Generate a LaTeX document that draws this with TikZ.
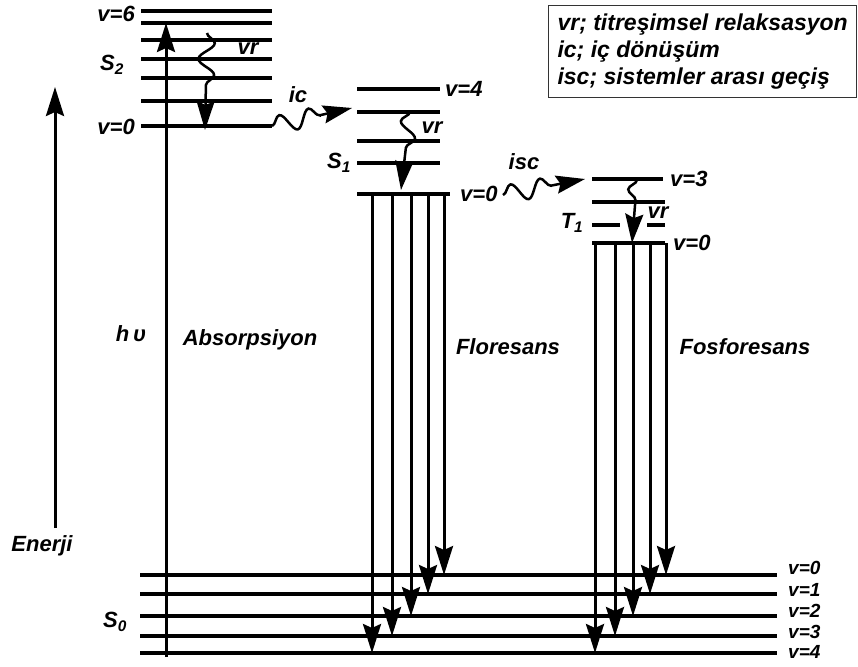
\documentclass[tikz,border=0pt]{standalone}
\usepackage{fontspec}
\setmainfont{Liberation Sans}
\usetikzlibrary{arrows.meta, decorations.pathmorphing}
\tikzset{
  level/.style={line width=3.4pt},
  trans/.style={line width=3pt, -{Stealth[length=29pt, width=18pt, inset=4pt]}},
  wave/.style={trans, line width=2.5pt, decorate,
    decoration={snake, amplitude=#1, segment length=32pt, post length=30pt}},
  wave/.default=8pt,
  lbl/.style={font=\fontsize{22}{26}\selectfont\bfseries\itshape, inner sep=0pt},
  vlbl/.style={lbl, font=\fontsize{19}{22}\selectfont\bfseries\itshape},
}
\begin{document}
\begin{tikzpicture}[x=1pt, y=-1pt]
  \useasboundingbox (0,0) rectangle (858,666);
  % ground state S0
  \foreach \y/\ly [count=\i from 0] in {575/568,594/590,616/611,636/632,653/652} {
    \coordinate (S0v\i) at (140,\y);
    \draw[level] (S0v\i) -- ++(637,0);
    \node[vlbl, anchor=west] (S0l\i) at (788,\ly) {v=\i};
  }
  \node[lbl] (S0) at (115,622) {S\textsubscript{0}};
  % S2
  \foreach \y [count=\i from 0] in {126,101,78,59,40,23,11} {
    \coordinate (S2v\i) at (141,\y);
    \draw[level] (S2v\i) -- ++(131,0);
  }
  \node[lbl, anchor=east] (S2top) at ([xshift=-6pt, yshift=-3pt]S2v6) {v=6};
  \node[lbl, anchor=east] (S2bot) at ([xshift=-6pt, yshift=-1pt]S2v0) {v=0};
  \node[lbl] (S2) at (112,65) {S\textsubscript{2}};
  % S1
  \foreach \y [count=\i from 0] in {194,163,141,112,89} {
    \coordinate (S1v\i) at (357,\y);
    \draw[level] (S1v\i) -- ++(83,0);
  }
  \draw[level] (S1v0) -- ++(93,0);
  \node[lbl, anchor=west] (S1top) at ([xshift=88pt]S1v4) {v=4};
  \node[lbl, anchor=west] (S1bot) at ([xshift=103pt]S1v0) {v=0};
  \node[lbl] (S1) at (339,163) {S\textsubscript{1}};
  % T1
  \foreach \y [count=\i from 0] in {243,225,202,179} {
    \coordinate (T1v\i) at (592,\y);
  }
  \draw[level] (T1v0) -- ++(73,0);
  \draw[level] (T1v1) -- ++(28,0) ++(27,0) -- ++(18,0);
  \draw[level] (T1v2) -- ++(73,0);
  \draw[level] (T1v3) -- ++(71,0);
  \node[lbl, anchor=west] (T1top) at ([xshift=78pt]T1v3) {v=3};
  \node[lbl, anchor=west] (T1bot) at ([xshift=81pt]T1v0) {v=0};
  \node[lbl] (T1) at (572,223) {T\textsubscript{1}};
  % energy axis and absorption
  \coordinate (ebot) at (55,528);
  \coordinate (etop) at (55,87);
  \draw[trans] (ebot) -- (etop);
  \node[lbl] (energy) at (42,546) {Enerji};
  \coordinate (absbot) at (166,657);
  \coordinate (abstop) at (166,23);
  \draw[trans] (absbot) -- (abstop);
  \node[lbl] (hnu) at (131,334) {h\,υ};
  \node[lbl] (abs) at (250,340) {Absorpsiyon};
  % relaxations
  \coordinate (vrAs) at (207,33);
  \coordinate (vrAe) at (205,130);
  \draw[wave] (vrAs) -- (vrAe);
  \node[lbl] (vrA) at (248,49) {vr};
  \coordinate (icS) at (272,126);
  \coordinate (icE) at (352,108);
  \draw[wave=9pt, decoration={segment length=30pt}] (icS) -- (icE);
  \node[lbl] (ic) at (298,95) {ic};
  \coordinate (vrBs) at (410,112);
  \coordinate (vrBe) at (401,190);
  \draw[wave=-8pt] (vrBs) -- (vrBe);
  \node[lbl] (vrB) at (432,128) {vr};
  \coordinate (iscS) at (503,195);
  \coordinate (iscE) at (585,179);
  \draw[wave=9pt, decoration={segment length=30pt}] (iscS) -- (iscE);
  \node[lbl] (isc) at (524,162) {isc};
  \coordinate (vrCs) at (637,180);
  \coordinate (vrCe) at (632,243);
  \draw[wave=-8pt] (vrCs) -- (vrCe);
  \node[lbl] (vrC) at (658,213) {vr};
  % fluorescence and phosphorescence
  \foreach \x [count=\i from 0] in {444,428,411,392,372}
    \draw[trans] (\x,0 |- S1v0) -- (\x,0 |- S0v\i);
  \foreach \x [count=\i from 0] in {666,650,633,615,595}
    \draw[trans] (\x,0 |- T1v0) -- (\x,0 |- S0v\i);
  \node[lbl] (fl) at (508,347) {Floresans};
  \node[lbl] (ph) at (745,347) {Fosforesans};
  % legend
  \node[draw=black!80, line width=1.3pt, anchor=north west, minimum width=308pt,
    minimum height=92pt, align=left, inner sep=0pt,
    font=\fontsize{23}{27}\selectfont\bfseries\itshape] (legend) at (548,5)
    {vr; titreşimsel relaksasyon\\ic; iç dönüşüm\\isc; sistemler arası geçiş};
\end{tikzpicture}
\end{document}
